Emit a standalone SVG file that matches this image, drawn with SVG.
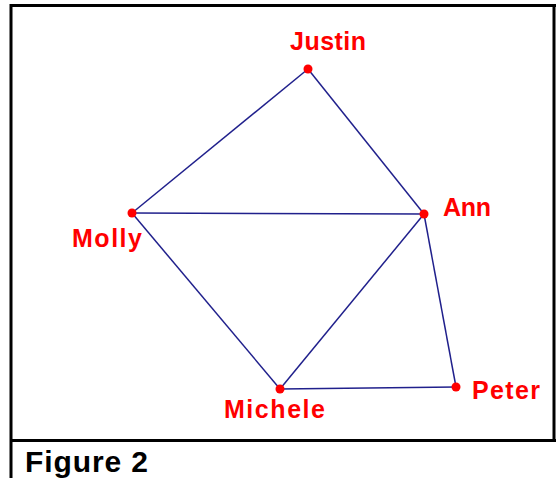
<svg xmlns="http://www.w3.org/2000/svg" width="556" height="478" viewBox="0 0 556 478">
<style>
.lbl{font-family:"Liberation Sans",Arial,sans-serif;font-weight:bold;font-size:25px;fill:#ff0000}
.cap{font-family:"Liberation Sans",Arial,sans-serif;font-weight:bold;font-size:30px;fill:#000}
.dot{fill:#ff0000}
.edge{stroke:#20208c;stroke-width:1.5;fill:none}
.frame{stroke:#000;stroke-width:3;fill:none}
</style>
<rect width="556" height="478" fill="#fff"/>
<g id="frame">
<path class="frame" d="M11,478 V5.5 H556"/>
<line class="frame" x1="554" y1="5.5" x2="554" y2="440.5"/>
<line class="frame" x1="11" y1="440.5" x2="556" y2="440.5"/>
</g>
<g id="connectors">
<line class="edge" x1="308" y1="69" x2="132" y2="213"/>
<line class="edge" x1="308" y1="69" x2="424" y2="214"/>
<line class="edge" x1="132" y1="213" x2="424" y2="214"/>
<line class="edge" x1="132" y1="213" x2="280" y2="389"/>
<line class="edge" x1="424" y1="214" x2="280" y2="389"/>
<line class="edge" x1="424" y1="214" x2="456" y2="387"/>
<line class="edge" x1="280" y1="389" x2="456" y2="387"/>
</g>
<g id="justin"><circle class="dot" cx="308" cy="69" r="4.5"/><text class="lbl" x="290" y="50" textLength="76">Justin</text></g>
<g id="molly"><circle class="dot" cx="132" cy="213" r="4.5"/><text class="lbl" x="72" y="247" textLength="70">Molly</text></g>
<g id="ann"><circle class="dot" cx="424" cy="214" r="4.5"/><text class="lbl" x="443" y="216" textLength="48">Ann</text></g>
<g id="michele"><circle class="dot" cx="280" cy="389" r="4.5"/><text class="lbl" x="224" y="418" textLength="101">Michele</text></g>
<g id="peter"><circle class="dot" cx="456" cy="387" r="4.5"/><text class="lbl" x="472" y="399" textLength="68">Peter</text></g>
<text class="cap" x="25" y="472" textLength="123">Figure 2</text>
</svg>
